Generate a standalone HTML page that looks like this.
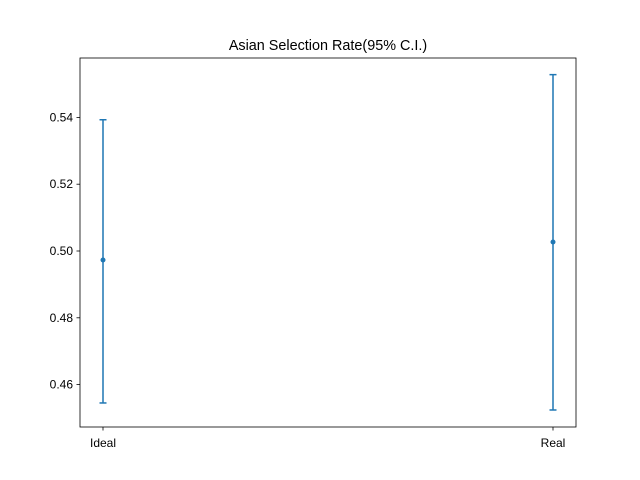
<!DOCTYPE html>
<html><head><meta charset="utf-8"><style>
body{margin:0;background:#fff;}
svg{display:block;font-family:"Liberation Sans","DejaVu Sans",sans-serif;}
</style></head><body>
<svg id="chart" width="640" height="480">
<rect width="640" height="480" fill="#fff"/>
<text x="328" y="50" text-anchor="middle" font-size="14.4" fill="#000">Asian Selection Rate(95% C.I.)</text>
<g id="ticks"></g>
<g id="marks"></g>
<rect x="80" y="58" width="496" height="369" fill="none" stroke="#000" stroke-width="0.8"/>
</svg>
<script>
const categories = ["Ideal", "Real"];
const means = [0.4973, 0.5027];
const lows = [0.4545, 0.4524];
const highs = [0.5393, 0.5528];
const yTicks = [0.46, 0.48, 0.50, 0.52, 0.54];
const yTickLabels = ["0.46", "0.48", "0.50", "0.52", "0.54"];

const NS = "http://www.w3.org/2000/svg";
function yScale(v){ return 251 - (v - 0.50) * 3340; }
function xScale(i){ return 103 + i * (553 - 103) / (categories.length - 1); }
function mk(tag, attrs, parent){ const e = document.createElementNS(NS, tag); for (const k in attrs) e.setAttribute(k, attrs[k]); parent.appendChild(e); return e; }

const tg = document.getElementById("ticks");
yTicks.forEach((v, i) => {
  const y = yScale(v);
  const t = mk("line", {x1: 76.5, x2: 80, y1: y, y2: y, stroke: "#000", "stroke-width": 0.8}, tg);
  
  
  const l = mk("text", {x: 73, y: y + 4, "text-anchor": "end", "font-size": 12, fill: "#000"}, tg);
  l.textContent = yTickLabels[i];
  
  
});
categories.forEach((c, i) => {
  const x = xScale(i);
  const t = mk("line", {x1: x, x2: x, y1: 427, y2: 430.5, stroke: "#000", "stroke-width": 0.8}, tg);
  
  
  const l = mk("text", {x: x, y: 447, "text-anchor": "middle", "font-size": 12, fill: "#000"}, tg);
  l.textContent = c;
  
  
});

const mg = document.getElementById("marks");
const col = "#1f77b4";
categories.forEach((c, i) => {
  const x = xScale(i), yl = yScale(lows[i]), yh = yScale(highs[i]), ym = yScale(means[i]);
  const g = mk("g", {}, mg);
  
  
  mk("line", {x1: x, x2: x, y1: yl, y2: yh, stroke: col, "stroke-width": 1.5}, g);
  mk("line", {x1: x - 3.5, x2: x + 3.5, y1: yl, y2: yl, stroke: col, "stroke-width": 1.5}, g);
  mk("line", {x1: x - 3.5, x2: x + 3.5, y1: yh, y2: yh, stroke: col, "stroke-width": 1.5}, g);
  const p = mk("circle", {cx: x, cy: ym, r: 2.5, fill: col}, g);
  
  
});
</script>
</body></html>
